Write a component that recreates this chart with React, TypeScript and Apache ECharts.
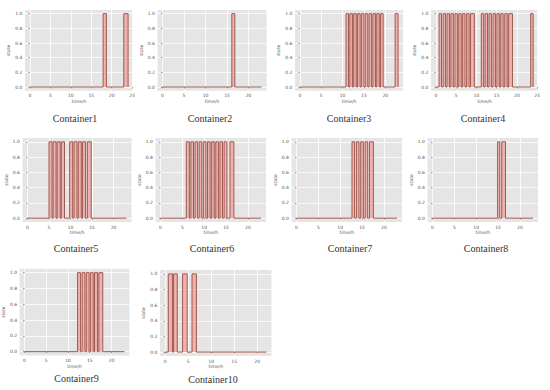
import React, { useEffect, useRef } from 'react';
import * as echarts from 'echarts';

const containerNames = [
  'Container1', 'Container2', 'Container3', 'Container4', 'Container5',
  'Container6', 'Container7', 'Container8', 'Container9', 'Container10',
];
const xTickValues = [0, 5, 10, 15, 20, 25];
const yTickValues = [0, 0.2, 0.4, 0.6, 0.8, 1.0];
const endTimes = [24, 23, 23, 24, 23, 23, 23, 23, 23, 22];

// ON intervals [start, end] in hours
const onIntervals1 = [[17.9, 18.7], [22.95, 24]];
const onIntervals2 = [[16.1, 16.8]];
const onIntervals3 = [
  [10.8, 11.4], [11.7, 12.3], [12.6, 13.2], [13.5, 14.1], [14.4, 15.0],
  [15.3, 15.9], [16.2, 16.8], [17.1, 17.7], [18.0, 18.6], [18.9, 19.5],
  [22.3, 23.0],
];
const onIntervals4 = [
  [0.8, 1.4], [1.8, 2.4], [2.75, 3.35], [3.7, 4.3], [4.7, 5.3],
  [5.65, 6.25], [6.6, 7.2], [7.6, 8.2], [8.55, 9.5],
  [11.2, 11.8], [12.15, 12.75], [13.1, 13.7], [14.1, 14.7], [15.05, 15.65],
  [16.0, 16.6], [17.0, 17.6], [17.95, 18.9],
  [23.4, 24.0],
];
const onIntervals5 = [
  [5.0, 5.7], [5.95, 6.65], [6.9, 7.6], [7.85, 8.6],
  [9.8, 10.5], [10.8, 11.5], [11.8, 12.5], [12.8, 13.5], [13.9, 14.8],
];
const onIntervals6 = [
  [5.9, 6.6], [6.95, 7.55], [7.9, 8.5], [8.85, 9.45], [9.8, 10.4],
  [10.75, 11.35], [11.7, 12.3], [12.65, 13.25], [13.6, 14.2], [14.55, 15.2],
  [15.9, 16.8],
];
const onIntervals7 = [[12.7, 13.3], [13.7, 14.3], [14.7, 15.3], [15.7, 16.3], [16.7, 17.6]];
const onIntervals8 = [[14.9, 15.4], [15.85, 16.7]];
const onIntervals9 = [
  [12.2, 12.9], [13.25, 13.9], [14.2, 14.85], [15.15, 15.8], [16.1, 16.8], [17.1, 18.0],
];
const onIntervals10 = [[0.7, 1.6], [1.85, 2.65], [3.8, 4.8], [5.85, 6.8]];

const allIntervals = [
  onIntervals1, onIntervals2, onIntervals3, onIntervals4, onIntervals5,
  onIntervals6, onIntervals7, onIntervals8, onIntervals9, onIntervals10,
];

// layout (pixels): plot area and title position
const layouts = [
  { l: 25, r: 133, t: 10, b: 90.7, tx: 75, ty: 118 },
  { l: 157.5, r: 266.5, t: 10, b: 90.7, tx: 210, ty: 118 },
  { l: 295, r: 403, t: 10, b: 90.7, tx: 349, ty: 118 },
  { l: 431, r: 538, t: 10, b: 90.7, tx: 483, ty: 118 },
  { l: 22.5, r: 131.5, t: 138, b: 222, tx: 76, ty: 248 },
  { l: 155.5, r: 266, t: 138, b: 222, tx: 212, ty: 248 },
  { l: 291.5, r: 402, t: 138, b: 222, tx: 350, ty: 248 },
  { l: 427.5, r: 538, t: 138, b: 222, tx: 486, ty: 248 },
  { l: 18.5, r: 129.5, t: 268.7, b: 355.6, tx: 76.5, ty: 378.5 },
  { l: 160, r: 271.5, t: 270, b: 356, tx: 213, ty: 379 },
];

function buildSteps(intervals: number[][], tEnd: number) {
  const pts: number[][] = [[0, 0]];
  for (const [s, e] of intervals) {
    pts.push([s, 0], [s, 1], [e, 1], [e, 0]);
  }
  const last = pts[pts.length - 1][0];
  if (last < tEnd) pts.push([tEnd, 0]);
  return pts;
}

export default function App() {
  const ref = useRef<HTMLDivElement>(null);
  useEffect(() => {
    if (!ref.current) return;
    const chart = echarts.init(ref.current, undefined, { renderer: 'svg' });
    const tickColor = '#555555';
    const labelSize = 4.5;
    const grids: any[] = [];
    const xAxes: any[] = [];
    const yAxes: any[] = [];
    const series: any[] = [];
    const graphics: any[] = [];
    containerNames.forEach((name, i) => {
      const lay = layouts[i];
      const tEnd = endTimes[i];
      grids.push({
        left: lay.l, top: lay.t, width: lay.r - lay.l, height: lay.b - lay.t,
        show: true, backgroundColor: '#E5E5E5', borderWidth: 0,
      });
      xAxes.push({
        gridIndex: i, type: 'value', min: -0.05 * tEnd, max: 1.05 * tEnd,
        axisLine: { show: false },
        axisTick: { show: true, length: 1.5, customValues: xTickValues, lineStyle: { color: tickColor, width: 0.6 } },
        axisLabel: { customValues: xTickValues, fontSize: labelSize, color: tickColor, margin: 2.5, fontFamily: 'DejaVu Sans' },
        splitLine: { show: true, lineStyle: { color: '#ffffff', width: 0.8 } },
        name: 'time/h', nameLocation: 'middle', nameGap: 8,
        nameTextStyle: { fontSize: labelSize, color: tickColor, fontFamily: 'DejaVu Sans' },
      });
      yAxes.push({
        gridIndex: i, type: 'value', min: -0.05, max: 1.05,
        axisLine: { show: false },
        axisTick: { show: true, length: 1.5, customValues: yTickValues, lineStyle: { color: tickColor, width: 0.6 } },
        axisLabel: {
          customValues: yTickValues, fontSize: labelSize, color: tickColor, margin: 2.5,
          fontFamily: 'DejaVu Sans', formatter: (v: number) => v.toFixed(1),
        },
        splitLine: { show: true, lineStyle: { color: '#ffffff', width: 0.8 } },
        name: 'state', nameLocation: 'middle', nameGap: 10,
        nameTextStyle: { fontSize: labelSize, color: tickColor, fontFamily: 'DejaVu Sans' },
      });
      series.push({
        type: 'line', xAxisIndex: i, yAxisIndex: i,
        data: buildSteps(allIntervals[i], tEnd),
        symbol: 'none', silent: true,
        lineStyle: { color: '#a05a4c', width: 1 },
        areaStyle: { color: '#f0a8a8', opacity: 0.85 },
      });
      graphics.push({
        type: 'text', x: lay.tx, y: lay.ty,
        style: {
          text: name, fontSize: 10, fontFamily: 'Liberation Serif', fill: '#333333',
          align: 'center', verticalAlign: 'middle', textAlign: 'center', textVerticalAlign: 'middle',
        },
      });
    });
    chart.setOption({
      animation: false,
      backgroundColor: '#ffffff',
      grid: grids,
      xAxis: xAxes,
      yAxis: yAxes,
      series,
      graphic: graphics,
    });
    return () => chart.dispose();
  }, []);
  return (
    <div
      ref={ref}
      style={{ position: 'fixed', left: 0, top: 0, width: 550, height: 390, background: '#fff' }}
    />
  );
}
